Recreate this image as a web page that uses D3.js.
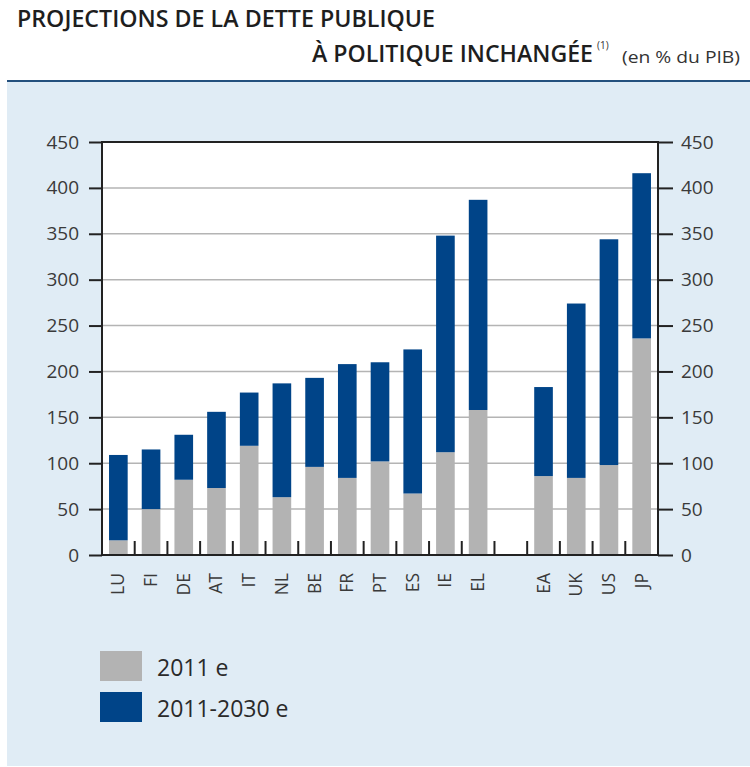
<!DOCTYPE html>
<html>
<head>
<meta charset="utf-8">
<script src="https://cdn.jsdelivr.net/npm/d3@7"></script>
<style>
  body { margin: 0; background: #fff; }
  svg text { font-family: "Open Sans", "DejaVu Sans", sans-serif; fill: #333; }
  .title { font-weight: 600; fill: #1e1e1e; }
</style>
</head>
<body>
<div id="chart"></div>
<script>
// categories ("" = empty slot between euro countries and the rest)
var countries = ["LU", "FI", "DE", "AT", "IT", "NL", "BE", "FR", "PT", "ES", "IE", "EL", "", "EA", "UK", "US", "JP"];
// public debt in 2011 (% of GDP)
var debt2011 = [16, 50, 82, 73, 119, 63, 96, 84, 102, 67, 112, 158, null, 86, 84, 98, 236];
// projected debt level in 2030 (% of GDP)
var debt2030 = [109, 115, 131, 156, 177, 187, 193, 208, 210, 224, 348, 387, null, 183, 274, 344, 416];
var yTicks = [0, 50, 100, 150, 200, 250, 300, 350, 400, 450];
var seriesNames = ["2011 e", "2011-2030 e"];
var seriesColors = ["#b3b3b3", "#004488"];

var width = 750, height = 767;
var margin = { left: 102, top: 142, right: 92, bottom: 212 };
var innerWidth = width - margin.left - margin.right;
var innerHeight = height - margin.top - margin.bottom;

var svg = d3.select("#chart").append("svg")
    .attr("width", width)
    .attr("height", height);

// title
svg.append("text").attr("class", "title")
    .attr("x", 17).attr("y", 27)
    .attr("textLength", 418).attr("lengthAdjust", "spacingAndGlyphs")
    .style("font-size", "23px")
    .text("PROJECTIONS DE LA DETTE PUBLIQUE");
svg.append("text").attr("class", "title")
    .attr("x", 312).attr("y", 62)
    .attr("textLength", 281).attr("lengthAdjust", "spacingAndGlyphs")
    .style("font-size", "23px")
    .text("À POLITIQUE INCHANGÉE");
svg.append("text")
    .attr("x", 597).attr("y", 49)
    .style("font-size", "10px")
    .text("(1)");
svg.append("text")
    .attr("x", 622).attr("y", 63)
    .attr("textLength", 118).attr("lengthAdjust", "spacingAndGlyphs")
    .style("font-size", "16px")
    .text("(en % du PIB)");

// panel
svg.append("rect")
    .attr("x", 7).attr("y", 82)
    .attr("width", width - 7).attr("height", 684)
    .attr("fill", "#e0ecf5");
svg.append("line")
    .attr("x1", 7).attr("x2", width)
    .attr("y1", 81).attr("y2", 81)
    .attr("stroke", "#24507d").attr("stroke-width", 2);

var g = svg.append("g")
    .attr("transform", "translate(" + margin.left + "," + margin.top + ")");

var x = d3.scaleBand()
    .domain(countries)
    .range([0, innerWidth])
    .paddingInner(0.43)
    .paddingOuter(0.215);
var y = d3.scaleLinear().domain([0, 450]).range([innerHeight, 0]);

g.append("rect")
    .attr("width", innerWidth).attr("height", innerHeight)
    .attr("fill", "#fff");

// gridlines
g.selectAll(".grid").data(yTicks.slice(1, -1)).enter().append("line")
    .attr("class", "grid")
    .attr("x1", 0).attr("x2", innerWidth)
    .attr("y1", function(d) { return y(d); })
    .attr("y2", function(d) { return y(d); })
    .attr("stroke", "#b4b4b4").attr("stroke-width", 1.5);

// bars
var data = countries.map(function(c, i) {
    return { c: c, a: debt2011[i], b: debt2030[i] };
}).filter(function(d) { return d.c !== ""; });

g.selectAll(".low").data(data).enter().append("rect")
    .attr("x", function(d) { return x(d.c); })
    .attr("width", x.bandwidth())
    .attr("y", function(d) { return y(d.a); })
    .attr("height", function(d) { return y(0) - y(d.a); })
    .attr("fill", seriesColors[0]);
g.selectAll(".high").data(data).enter().append("rect")
    .attr("x", function(d) { return x(d.c); })
    .attr("width", x.bandwidth())
    .attr("y", function(d) { return y(d.b); })
    .attr("height", function(d) { return y(d.a) - y(d.b); })
    .attr("fill", seriesColors[1]);

// axes
var yAxisL = d3.axisLeft(y).tickValues(yTicks).tickSize(13).tickPadding(10);
var yAxisR = d3.axisRight(y).tickValues(yTicks).tickSize(15).tickPadding(8);

var gl = g.append("g").call(yAxisL);
gl.select(".domain").remove();
var gr = g.append("g").attr("transform", "translate(" + innerWidth + ",0)").call(yAxisR);
gr.select(".domain").remove();
[gl, gr].forEach(function(a) {
    a.selectAll("line").attr("stroke", "#222").attr("stroke-width", 2);
    a.selectAll("text").style("font-size", "19px").style("fill", "#3a3a3a")
        .style("font-family", "'Open Sans', sans-serif");
});

// boundary ticks on the category axis
var bounds = d3.range(1, countries.length).map(function(i) {
    return x(countries[i]) - x.step() * x.paddingInner() / 2;
});
g.selectAll(".btick").data(bounds).enter().append("line")
    .attr("x1", function(d) { return d; }).attr("x2", function(d) { return d; })
    .attr("y1", innerHeight).attr("y2", innerHeight - 14)
    .attr("stroke", "#222").attr("stroke-width", 2);

// frame
g.append("rect")
    .attr("width", innerWidth).attr("height", innerHeight)
    .attr("fill", "none").attr("stroke", "#222").attr("stroke-width", 2);

// category labels
g.selectAll(".xl").data(data).enter().append("text")
    .attr("transform", function(d) {
        return "translate(" + (x(d.c) + x.bandwidth() / 2 + 6) + "," + (innerHeight + 18) + ") rotate(-90)";
    })
    .attr("text-anchor", "end")
    .style("font-size", "17.5px")
    .style("fill", "#3a3a3a")
    .text(function(d) { return d.c; });

// legend
var legend = svg.append("g").attr("transform", "translate(100,651)");
seriesNames.forEach(function(name, i) {
    legend.append("rect")
        .attr("x", 0).attr("y", i * 41)
        .attr("width", 42).attr("height", 30)
        .attr("fill", seriesColors[i]);
    legend.append("text")
        .attr("x", 57).attr("y", i * 41 + 25)
        .style("font-size", "23px")
        .style("fill", "#2a2a2a")
        .text(name);
});
</script>
</body>
</html>
